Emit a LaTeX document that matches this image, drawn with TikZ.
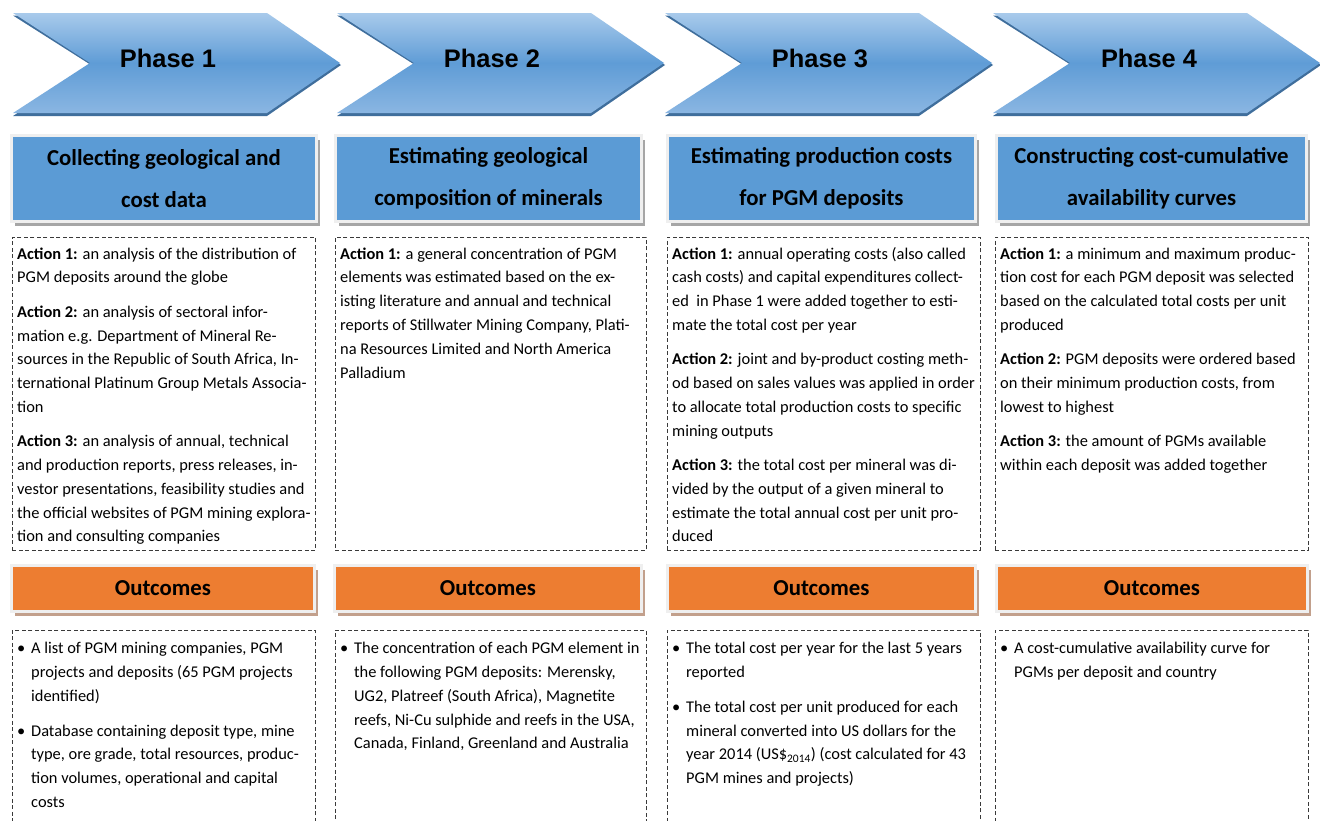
\documentclass[tikz,border=0pt]{standalone}
\usepackage{fontspec}
\setmainfont{Carlito}
\newfontfamily\arialfont{Liberation Sans}
\usetikzlibrary{shadows}

\definecolor{boxblue}{HTML}{5B9BD5}
\definecolor{boxorange}{HTML}{ED7D31}
\definecolor{chevtop}{HTML}{A8CAEB}
\definecolor{chevmid}{HTML}{5F9CD6}
\definecolor{chevbot}{HTML}{8AB6E2}
\definecolor{chevshadow}{HTML}{3F6E9C}
\definecolor{framegray}{HTML}{EFEFEF}
\definecolor{shadowgray}{HTML}{A6A6A6}
\definecolor{shadowbrown}{HTML}{C2A08C}
\definecolor{dashgray}{HTML}{3A3A3A}

\newcommand{\bodyfont}{\fontsize{16.4}{23.8}\selectfont}
\newcommand{\blt}{\makebox[14pt][l]{\textbullet}}
\newcommand{\chevronshape}[1]{%
  \begin{scope}[shift={(#1,0)}]
    \fill[chevshadow] (0,15.5)--(254,15.5)--(328,65)--(254,116)--(0,116)--(78,65)--cycle;
    \shade[top color=chevtop, bottom color=chevbot, middle color=chevmid]
      (0,13)--(254,13)--(327,63)--(254,113)--(0,113)--(77,63)--cycle;
  \end{scope}}

\tikzset{
  phasetxt/.style={inner sep=0pt, font=\arialfont\bfseries\fontsize{25.4}{30}\selectfont},
  titlebox/.style={rectangle, fill=boxblue, draw=framegray, line width=3pt,
    minimum height=86pt, inner sep=0pt, align=center,
    font=\fontsize{22.8}{42}\selectfont\bfseries,
    drop shadow={shadow xshift=3.5pt, shadow yshift=-4.5pt, fill=shadowgray, opacity=1}},
  outbox/.style={rectangle, fill=boxorange, draw=framegray, line width=3pt,
    minimum height=46pt, inner sep=0pt,
    font=\fontsize{22.8}{28}\selectfont\bfseries,
    drop shadow={shadow xshift=3.5pt, shadow yshift=-4.5pt, fill=shadowbrown, opacity=1}},
  dashbox/.style={rectangle, draw=dashgray, line width=0.8pt, dash pattern=on 4pt off 2.5pt,
    inner sep=0pt, anchor=north west},
  bodytext/.style={anchor=north west, inner sep=0pt, font=\bodyfont}
}

\begin{document}
\begin{tikzpicture}[x=1pt,y=-1pt]
\useasboundingbox (0,0) rectangle (1320,820);
\clip (0,0) rectangle (1320,820);
\fill[white] (0,0) rectangle (1320,820);

% chevrons
\chevronshape{13}
\chevronshape{337}
\chevronshape{665}
\chevronshape{993}
\node[phasetxt] (ph1) at (168,58) {Phase 1};
\node[phasetxt] (ph2) at (492,58) {Phase 2};
\node[phasetxt] (ph3) at (820,58) {Phase 3};
\node[phasetxt] (ph4) at (1149,58) {Phase 4};

% title boxes
\node[titlebox, minimum width=305pt] (t1) at (164,178.5) {Collecting geological and\\cost data};
\node[titlebox, minimum width=306pt] (t2) at (488.5,178.5) {Estimating geological\\composition of minerals};
\node[titlebox, minimum width=308pt] (t3) at (821.5,178.5) {Estimating production costs\\for PGM deposits};
\node[titlebox, minimum width=310pt] (t4) at (1151.5,178.5) {Constructing cost-cumulative\\availability curves};

% action boxes
\node[dashbox, minimum width=303pt, minimum height=313pt] (a1) at (12,237) {};
\node[dashbox, minimum width=311pt, minimum height=313pt] (a2) at (335,237) {};
\node[dashbox, minimum width=313pt, minimum height=313pt] (a3) at (667,237) {};
\node[dashbox, minimum width=313pt, minimum height=313pt] (a4) at (995,237) {};

\node[bodytext] (at1) at (17,242.3) {\begin{tabular}{@{}l@{}}
\textbf{Action 1:} an analysis of the distribution of\\
PGM deposits around the globe\\[10.5pt]
\textbf{Action 2:} an analysis of sectoral infor-\\
mation e.g. Department of Mineral Re-\\
sources in the Republic of South Africa, In-\\
ternational Platinum Group Metals Associa-\\
tion\\[10.5pt]
\textbf{Action 3:} an analysis of annual, technical\\
and production reports, press releases, in-\\
vestor presentations, feasibility studies and\\
the official websites of PGM mining explora-\\
tion and consulting companies
\end{tabular}};

\node[bodytext] (at2) at (340,242.3) {\begin{tabular}{@{}l@{}}
\textbf{Action 1:} a general concentration of PGM\\
elements was estimated based on the ex-\\
isting literature and annual and technical\\
reports of Stillwater Mining Company, Plati-\\
na Resources Limited and North America\\
Palladium
\end{tabular}};

\node[bodytext] (at3) at (672,242.3) {\begin{tabular}{@{}l@{}}
\textbf{Action 1:} annual operating costs (also called\\
cash costs) and capital expenditures collect-\\
ed \ in Phase 1 were added together to esti-\\
mate the total cost per year\\[10.5pt]
\textbf{Action 2:} joint and by-product costing meth-\\
od based on sales values was applied in order\\
to allocate total production costs to specific\\
mining outputs\\[10.5pt]
\textbf{Action 3:} the total cost per mineral was di-\\
vided by the output of a given mineral to\\
estimate the total annual cost per unit pro-\\
duced
\end{tabular}};

\node[bodytext] (at4) at (1000,242.3) {\begin{tabular}{@{}l@{}}
\textbf{Action 1:} a minimum and maximum produc-\\
tion cost for each PGM deposit was selected\\
based on the calculated total costs per unit\\
produced\\[10.5pt]
\textbf{Action 2:} PGM deposits were ordered based\\
on their minimum production costs, from\\
lowest to highest\\[10.5pt]
\textbf{Action 3:} the amount of PGMs available\\
within each deposit was added together
\end{tabular}};

% outcome headers
\node[outbox, minimum width=303pt] (o1) at (163,588.5) {Outcomes};
\node[outbox, minimum width=307pt] (o2) at (488,588.5) {Outcomes};
\node[outbox, minimum width=308pt] (o3) at (821.5,588.5) {Outcomes};
\node[outbox, minimum width=311pt] (o4) at (1152,588.5) {Outcomes};

% outcome boxes
\node[dashbox, minimum width=303pt, minimum height=220pt] (ob1) at (12,630) {};
\node[dashbox, minimum width=311pt, minimum height=220pt] (ob2) at (335,630) {};
\node[dashbox, minimum width=313pt, minimum height=220pt] (ob3) at (667,630) {};
\node[dashbox, minimum width=313pt, minimum height=220pt] (ob4) at (995,630) {};

\node[bodytext] (ot1) at (17,636.8) {\begin{tabular}{@{}l@{}l@{}}
\blt & A list of PGM mining companies, PGM\\
 & projects and deposits (65 PGM projects\\
 & identified)\\[11pt]
\blt & Database containing deposit type, mine\\
 & type, ore grade, total resources, produc-\\
 & tion volumes, operational and capital\\
 & costs
\end{tabular}};

\node[bodytext] (ot2) at (340,636.8) {\begin{tabular}{@{}l@{}l@{}}
\blt & The concentration of each PGM element in\\
 & the following PGM deposits: Merensky,\\
 & UG2, Platreef (South Africa), Magnetite\\
 & reefs, Ni-Cu sulphide and reefs in the USA,\\
 & Canada, Finland, Greenland and Australia
\end{tabular}};

\node[bodytext] (ot3) at (672,636.8) {\begin{tabular}{@{}l@{}l@{}}
\blt & The total cost per year for the last 5 years\\
 & reported\\[11pt]
\blt & The total cost per unit produced for each\\
 & mineral converted into US dollars for the\\
 & year 2014 (US\$\textsubscript{2014}) (cost calculated for 43\\
 & PGM mines and projects)
\end{tabular}};

\node[bodytext] (ot4) at (1000,636.8) {\begin{tabular}{@{}l@{}l@{}}
\blt & A cost-cumulative availability curve for\\
 & PGMs per deposit and country
\end{tabular}};
\end{tikzpicture}
\end{document}
